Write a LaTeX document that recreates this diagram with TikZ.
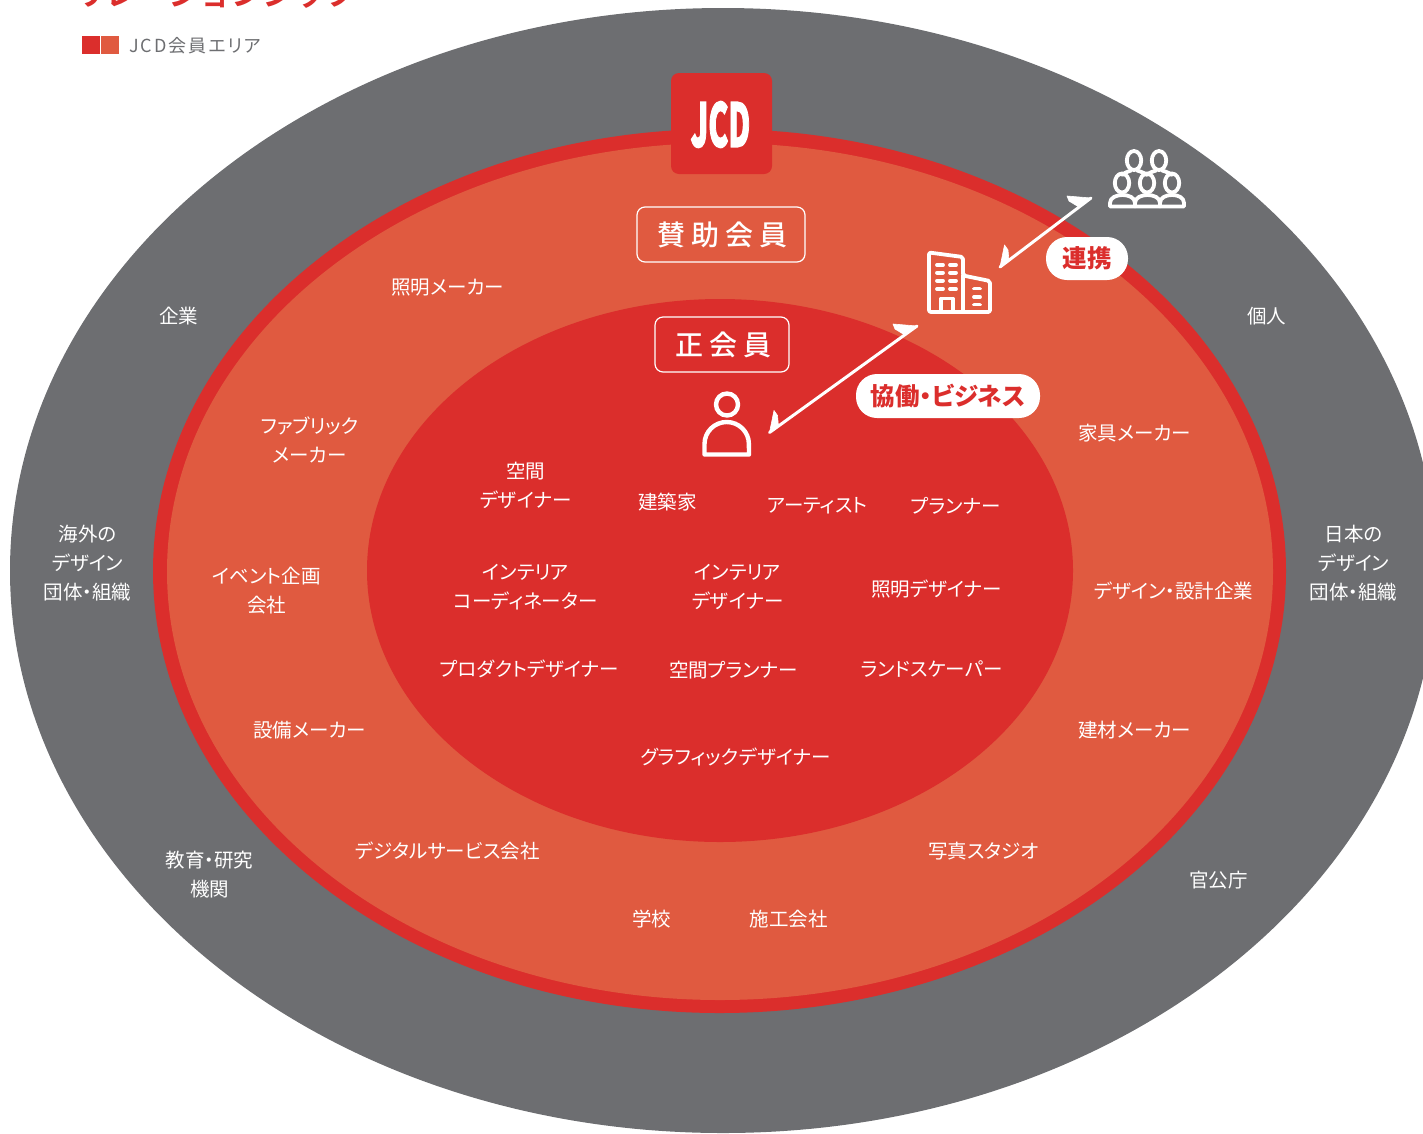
\documentclass[tikz,border=0pt]{standalone}
\usepackage{fontspec}
\usetikzlibrary{arrows.meta,shapes.geometric}
\setmainfont{Noto Sans CJK JP}[RawFeature={+palt}]
\newfontfamily\jpbold{Noto Sans CJK JP Black}[RawFeature={+palt}]
\newfontfamily\jptitle{Noto Sans CJK JP Bold}
\newfontfamily\jpspaced{Noto Sans CJK JP Medium}[LetterSpace=22]
\newfontfamily\jplegend{Noto Sans CJK JP}[LetterSpace=11,RawFeature={+palt}]
\newfontfamily\logofont{Noto Sans CJK JP Black}[FakeBold=2.5]
\definecolor{outergrey}{HTML}{6D6E71}
\definecolor{jcdred}{HTML}{DB2E2C}
\definecolor{salmon}{HTML}{E05A40}
\tikzset{
  x=1pt,y=-1pt,
  zone/.style={ellipse,inner sep=0pt,outer sep=0pt,draw=none},
  lab/.style={text=white,font=\fontsize{19.5}{29}\selectfont,align=center,inner sep=0pt,yshift=-0.4pt,xshift=.6pt},
  tag/.style={draw=white,line width=1.2pt,rounded corners=8pt,inner sep=0pt,text=white},
  pill/.style={fill=white,rounded corners=21pt,inner sep=0pt,text=jcdred,font=\jpbold\fontsize{24.5}{24.5}\selectfont},
  link/.style={draw=white,line width=3pt,line cap=round},
  linkhead/.style={fill=white,draw=white,line width=.6pt,line join=round},
  icon/.style={draw=white,line width=3.8pt,line join=round,line cap=round},
}
\begin{document}
\begin{tikzpicture}
\useasboundingbox (0,0) rectangle (1423,1133);
\begin{scope}
\clip (0,0) rectangle (1423,1133);
\node[zone,fill=outergrey,minimum width=1426pt,minimum height=1125pt] (outer) at (723,570.5) {};
\node[zone,fill=jcdred,minimum width=1133pt,minimum height=884pt] (ring) at (719.5,571) {};
\node[zone,fill=salmon,minimum width=1106pt,minimum height=857pt] (assoc) at (720,571.5) {};
\node[zone,fill=jcdred,minimum width=706pt,minimum height=543pt] (regular) at (720,570.5) {};
\node[text=jcdred,font=\jptitle\fontsize{31.5}{31.5}\selectfont,anchor=west,inner sep=0pt] (title) at (74,-6) {リレーションシップ};
\end{scope}
% legend
\node[fill=jcdred,minimum size=18pt,inner sep=0pt] (leg1) at (91,45) {};
\node[fill=salmon,minimum size=18pt,inner sep=0pt] (leg2) at (110,45) {};
\node[anchor=west,inner sep=0pt,text=outergrey,font=\jplegend\fontsize{18}{18}\selectfont] (legt) at (129,45.5) {JCD会員エリア};
% logo
\node[fill=jcdred,rounded corners=8pt,minimum size=101pt,inner sep=0pt] (logo) at (721.5,123.5) {};
\node[text=white,inner sep=0pt,font=\logofont\fontsize{60}{60}\selectfont,xscale=.5] (logot) at (720.5,124.5) {JCD};
% tags
\node[tag,minimum width=168pt,minimum height=55pt] (assoctag) at (721,234.5) {\jpspaced\fontsize{28}{28}\selectfont 賛助会員\kern-3pt};
\node[tag,minimum width=134pt,minimum height=55pt] (regtag) at (722,344.5) {\jpspaced\fontsize{28}{28}\selectfont 正会員\kern-3pt};
% labels
\node[lab] (l1) at (178,316) {企業};
\node[lab] (l2) at (1266,316) {個人};
\node[lab] (l3) at (447,287) {照明メーカー};
\node[lab] (l4) at (309,440) {ファブリック\\メーカー};
\node[lab] (l5) at (1134,433) {家具メーカー};
\node[lab] (l6) at (87,563) {海外の\\デザイン\\団体・組織};
\node[lab] (l7) at (1353,563) {日本の\\デザイン\\団体・組織};
\node[lab] (l8) at (266,590) {イベント企画\\会社};
\node[lab] (l9) at (1173,591) {デザイン・設計企業};
\node[lab] (l10) at (309,730) {設備メーカー};
\node[lab] (l11) at (1134,730) {建材メーカー};
\node[lab] (l12) at (209,874) {教育・研究\\機関};
\node[lab] (l13) at (447,851) {デジタルサービス会社};
\node[lab] (l14) at (983,851) {写真スタジオ};
\node[lab] (l15) at (1218,880) {官公庁};
\node[lab] (l16) at (651,919) {学校};
\node[lab] (l17) at (788,919) {施工会社};
\node[lab] (l18) at (525,485) {空間\\デザイナー};
\node[lab] (l19) at (667,502) {建築家};
\node[lab] (l20) at (817,505) {アーティスト};
\node[lab] (l21) at (955,505) {プランナー};
\node[lab] (l22) at (525,587) {インテリア\\コーディネーター};
\node[lab] (l23) at (737,587) {インテリア\\デザイナー};
\node[lab] (l24) at (936,589) {照明デザイナー};
\node[lab] (l25) at (529,668) {プロダクトデザイナー};
\node[lab] (l26) at (733,670) {空間プランナー};
\node[lab] (l27) at (931,669) {ランドスケーパー};
\node[lab] (l28) at (735,757) {グラフィックデザイナー};
% connectors
\coordinate (a1) at (1091,198);
\coordinate (a2) at (1000,267);
\coordinate (b1) at (917,326);
\coordinate (b2) at (769.5,432.5);
\draw[link] (a1) -- (a2);
\draw[link] (b1) -- (b2);
\fill[linkhead] (a1) -- ++(-24,-2) -- ++(2,5) -- ++(9,5.5) -- cycle;
\fill[linkhead] (a2) -- ++(4.5,-22) -- ++(3.5,5) -- ++(1,11) -- cycle;
\fill[linkhead] (b1) -- ++(-24,-2) -- ++(2,5) -- ++(9,5.5) -- cycle;
\fill[linkhead] (b2) -- ++(4.5,-22) -- ++(3.5,5) -- ++(1,11) -- cycle;
% pills
\node[pill,minimum width=82pt,minimum height=43pt] (p1) at (1087,258.5) {連携};
\node[pill,minimum width=184pt,minimum height=44pt] (p2) at (948,396) {協働・ビジネス};
% person
\draw[icon,line width=4.4pt] (727,404.5) circle [radius=11];
\draw[icon,line width=4.4pt] (704.5,454.5) -- (704.5,444) arc [start angle=180,end angle=0,x radius=22.2,y radius=-22] -- (749,454.5) -- cycle;
% building
\draw[icon,rounded corners=2pt] (929,252.5) -- (929,312) -- (990,312) -- (990,281) -- (963,275.5) -- (963,257) -- cycle;
\draw[icon] (963,275.5) -- (963,312);
\draw[icon] (941,312) -- (941,298.5) -- (953,298.5) -- (953,312);
\foreach \yy in {265,272.7,280.7,289}{
  \draw[icon] (937,\yy) -- (943,\yy);
  \draw[icon] (950,\yy) -- (956,\yy);
}
\foreach \yy in {288.5,297,304.5}{
  \draw[icon] (974,\yy) -- (980,\yy);
}
% people
\foreach \cx in {1134,1159}{
  \draw[icon] (\cx,160.5) ellipse [x radius=7.2,y radius=9.5];
}
\draw[icon] (1122,175) .. controls (1125,172.5) and (1128,171.5) .. (1131,170.5);
\draw[icon] (1137,170.5) .. controls (1140,171.5) and (1144,172.5) .. (1147,175) .. controls (1149,172.5) and (1153,171.5) .. (1156,170.5);
\draw[icon] (1162,170.5) .. controls (1165,171.5) and (1169,172.5) .. (1172,175);
\foreach \cx in {1122,1147,1172}{
  \draw[icon] (\cx,183) ellipse [x radius=7.2,y radius=9.5];
}
\foreach \xa/\xb/\xm in {1110/1135/1122.5,1135/1160/1147.5,1160/1184/1172}{
  \draw[icon] (\xa,206.5) -- (\xa,203) .. controls (\xa,197.5) and (\xm-6,195) .. (\xm,195)
     .. controls (\xm+6,195) and (\xb,197.5) .. (\xb,203) -- (\xb,206.5) -- cycle;
}
\end{tikzpicture}
\end{document}
